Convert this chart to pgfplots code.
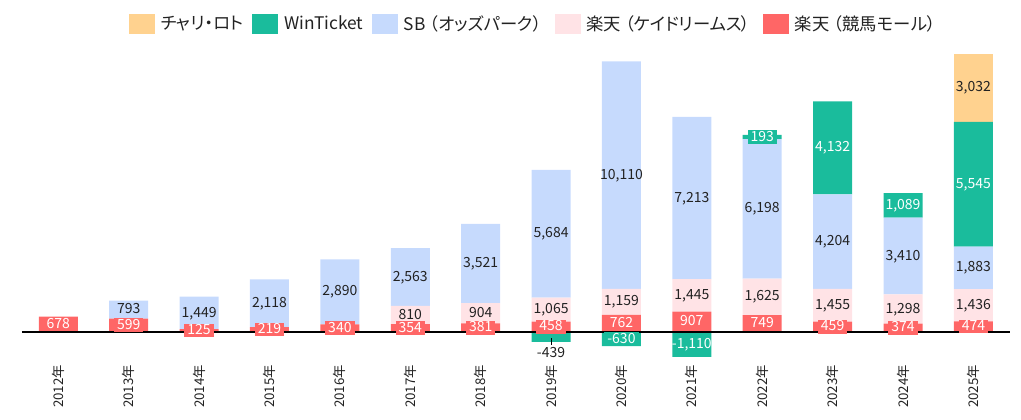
\documentclass[border=0pt]{standalone}
\usepackage{fontspec}
\setmainfont{Noto Sans CJK JP}[RawFeature=+palt]
\usepackage{pgfplots}
\pgfplotsset{compat=1.18}
\usepackage{pgfplotstable}
\definecolor{ckeiba}{HTML}{FF6666}
\definecolor{ckei}{HTML}{FFE3E6}
\definecolor{csb}{HTML}{C6DAFD}
\definecolor{cwt}{HTML}{1ABC9C}
\definecolor{cchari}{HTML}{FFD28F}
\definecolor{ctxt}{HTML}{222222}
\newcommand\labfont{\fontsize{10.5}{12}\selectfont}
\newcommand\tickfont{\fontsize{10}{12}\selectfont}
\newcommand\legfont{\fontsize{13}{16}\selectfont}
\newcommand\lp{\kern.25em（}
\newcommand\rp{）\kern.25em}
\pgfplotstableread{
x  keiba kei  sb    wt    chari
0  678   0    0     0     0
1  599   0    793   0     0
2  125   0    1449  0     0
3  219   0    2118  0     0
4  340   0    2890  0     0
5  354   810  2563  0     0
6  381   904  3521  0     0
7  458   1065 5684  -439  0
8  762   1159 10110 -630  0
9  907   1445 7213  -1110 0
10 749   1625 6198  193   0
11 459   1455 4204  4132  0
12 374   1298 3410  1089  0
13 474   1436 1883  5545  3032
}\data
\pgfplotsset{
  base/.style={scale only axis, width=741pt, height=237pt,
    at={(16.5pt,43.5pt)}, anchor=south west,
    xmin=-0.516, xmax=13.52, ymin=-1333, ymax=12711,
    axis line style={draw=none}, ytick=\empty, major tick length=0pt, clip=false,
    /pgf/number format/.cd, fixed, precision=0, 1000 sep={,}, assume math mode=true},
  lab/.style={draw=none, mark=none, forget plot, nodes near coords, point meta=explicit,
    nodes near coords align={center},
    every node near coord/.append style={font=\labfont, text=ctxt, inner xsep=2.25pt,
      inner ysep=0.8pt, text height=0.74em, text depth=0.12em}},
}
\begin{document}
\begin{tikzpicture}
\path[use as bounding box] (0,0) rectangle (765.75pt,315pt);
\begin{axis}[base, xtick=\empty, ybar stacked, bar width=29.25pt,
  legend columns=-1, reverse legend, legend cell align=left,
  legend image code/.code={\fill[#1] (0pt,-7.5pt) rectangle (19.5pt,7.5pt);},
  legend style={draw=none, fill=none, at={(0.1083,1.0696)}, anchor=west,
    inner sep=0pt, outer sep=0pt, font=\legfont, text=ctxt,
    nodes={inner xsep=0pt},
    /tikz/every odd column/.append style={column sep=4.3pt},
    /tikz/every even column/.append style={column sep=6.5pt}}]
\addplot[fill=ckeiba, draw=none] table[x=x, y=keiba] {\data};
\addplot[fill=ckei, draw=none] table[x=x, y=kei] {\data};
\addplot[fill=csb, draw=none] table[x=x, y=sb] {\data};
\addplot[fill=cwt, draw=none] table[x=x, y expr={max(\thisrow{wt},0)}] {\data};
\addplot[fill=cchari, draw=none] table[x=x, y=chari] {\data};
\legend{楽天\lp 競馬モール\rp, 楽天\lp ケイドリームス\rp, SB\lp オッズパーク\rp, WinTicket, チャリ・ロト}
\end{axis}
\begin{axis}[base, xtick={0,...,13},
  xticklabels={2012年,2013年,2014年,2015年,2016年,2017年,2018年,2019年,2020年,2021年,2022年,2023年,2024年,2025年},
  x tick label style={rotate=90, anchor=east, font=\tickfont, text=ctxt, inner sep=2pt}]
\addplot[ybar, bar width=29.25pt, bar shift=0pt, fill=cwt, draw=none, forget plot]
  table[x=x, y expr={min(\thisrow{wt},0)}] {\data};
\addplot[black, line width=0.8pt, forget plot] coordinates {(-0.516,0) (13.52,0)};
\addplot[black, line width=0.6pt, forget plot] coordinates {(7,-270) (7,-580)};
% labels
\addplot[lab, every node near coord/.append style={fill=ckeiba, text=white}]
  table[x=x, y expr={\thisrow{keiba}/2}, meta=keiba] {\data};
\addplot[lab] table[x=x, y expr={\thisrow{kei}==0 ? nan : \thisrow{keiba}+\thisrow{kei}/2}, meta=kei] {\data};
\addplot[lab] table[x=x, y expr={\thisrow{sb}==0 ? nan : \thisrow{keiba}+\thisrow{kei}+\thisrow{sb}/2}, meta=sb] {\data};
% WinTicket labels on short segments: boxed
\addplot[lab, every node near coord/.append style={fill=cwt, text=white}]
  table[x=x, y expr={(\thisrow{wt}==0 || \thisrow{wt}==-439 || abs(\thisrow{wt})>1000) ? nan : (\thisrow{wt}>0 ? \thisrow{keiba}+\thisrow{kei}+\thisrow{sb}+\thisrow{wt}/2 : \thisrow{wt}/2)}, meta=wt] {\data};
% WinTicket labels on tall segments
\addplot[lab, every node near coord/.append style={text=white}]
  table[x=x, y expr={abs(\thisrow{wt})>1000 ? (\thisrow{wt}>0 ? \thisrow{keiba}+\thisrow{kei}+\thisrow{sb}+\thisrow{wt}/2 : \thisrow{wt}/2) : nan}, meta=wt] {\data};
\addplot[lab] table[x=x, y expr={\thisrow{wt}==-439 ? -965 : nan}, meta=wt] {\data};
\addplot[lab] table[x=x, y expr={\thisrow{chari}==0 ? nan : \thisrow{keiba}+\thisrow{kei}+\thisrow{sb}+max(\thisrow{wt},0)+\thisrow{chari}/2}, meta=chari] {\data};
\end{axis}
\end{tikzpicture}
\end{document}
